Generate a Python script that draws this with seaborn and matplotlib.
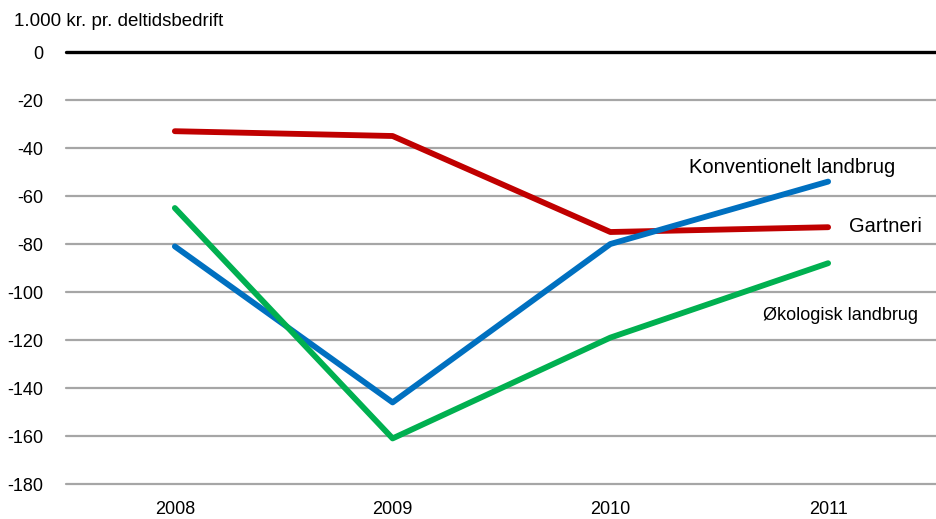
import matplotlib
matplotlib.use("Agg")
import matplotlib.pyplot as plt
import seaborn as sns
import pandas as pd

years = ["2008", "2009", "2010", "2011"]
konventionelt = [-81, -146, -80, -54]
gartneri = [-33, -35, -75, -73]
okologisk = [-65, -161, -119, -88]
y_ticks = [0, -20, -40, -60, -80, -100, -120, -140, -160, -180]

sns.set_theme(style="white")
plt.rcParams["font.family"] = ["Liberation Sans", "DejaVu Sans"]
plt.rcParams["text.color"] = "black"
plt.rcParams["xtick.color"] = "black"
plt.rcParams["ytick.color"] = "black"

df = pd.DataFrame({
    "år": years * 3,
    "værdi": konventionelt + gartneri + okologisk,
    "serie": ["Konventionelt landbrug"] * 4 + ["Gartneri"] * 4 + ["Økologisk landbrug"] * 4,
})
palette = {"Konventionelt landbrug": "#0070C0", "Gartneri": "#C00000",
           "Økologisk landbrug": "#00B050"}

fig = plt.figure(figsize=(9.37, 5.19), dpi=100)
ax = fig.add_axes([0.0704, 0.0674, 0.9296, 0.8324])

for t in y_ticks[1:]:
    ax.axhline(t, color="#a6a6a6", lw=1.6, zorder=1)
ax.axhline(0, color="black", lw=2.4, zorder=1, clip_on=False)

sns.lineplot(data=df, x="år", y="værdi", hue="serie", palette=palette,
             hue_order=["Gartneri", "Konventionelt landbrug", "Økologisk landbrug"],
             lw=4.2, legend=False, ax=ax, zorder=3, sort=False)
for line in ax.get_lines():
    line.set_solid_capstyle("round")
    line.set_clip_on(False)

ax.set_xlim(-0.5, 3.5)
ax.set_ylim(-180, 0)
ax.set_yticks(y_ticks)
ax.set_yticklabels([str(t) for t in y_ticks], fontsize=13)
ax.tick_params(axis="x", labelsize=13, pad=12, length=0)
ax.tick_params(axis="y", pad=16, length=0)
ax.set_xlabel("")
ax.set_ylabel("")
for s in ax.spines.values():
    s.set_visible(False)

ax.text(3.307, -48.3, "Konventionelt landbrug", fontsize=14.5,
        ha="right", va="center")
ax.text(3.43, -72.5, "Gartneri", fontsize=14.5, ha="right", va="center")
ax.text(3.413, -109.6, "Økologisk landbrug", fontsize=13,
        ha="right", va="center")

fig.text(0.015, 0.958, "1.000 kr. pr. deltidsbedrift", fontsize=13.5,
         ha="left", va="center")

fig.savefig("out.png", dpi=100)
